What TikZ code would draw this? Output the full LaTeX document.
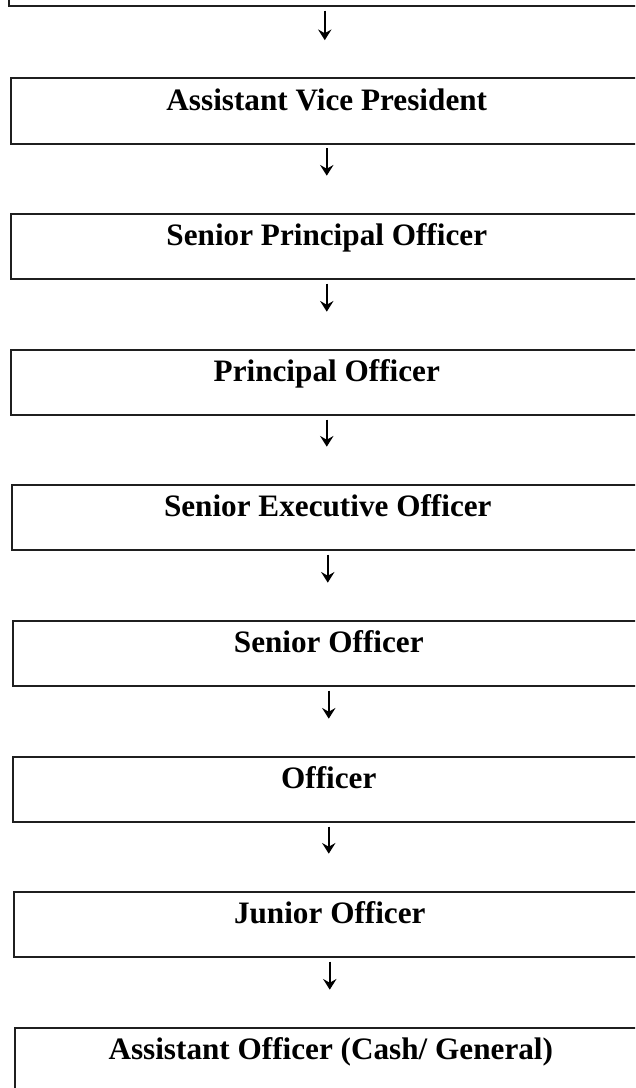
\documentclass[tikz,border=0pt]{standalone}
\usepackage{fontspec}
\setmainfont{Liberation Serif}
\usetikzlibrary{arrows.meta}

\tikzset{
  post/.style={draw=black!88, line width=1.15pt, rectangle, anchor=north west,
    minimum width=474pt, minimum height=49.1pt, inner ysep=0pt,
    text height=24pt, text depth=25.1pt,
    font=\bfseries\fontsize{23.4}{27}\selectfont},
  down/.style={-{Stealth[length=8pt,width=10pt,inset=2.8pt]}, line width=1.35pt,
    shorten <=2.8pt, shorten >=28pt}
}

\begin{document}
\begin{tikzpicture}[x=0.75pt,y=-0.75pt]
\useasboundingbox (0,0) rectangle (635,1088);
\clip (0,0) rectangle (635,1088);
% boxes (right side runs off the page)
\node[post, anchor=south west] (top) at (8,7) {};
\node[post] (avp) at (10,77.5) {Assistant Vice President};
\node[post] (spo) at (10,213) {Senior Principal Officer};
\node[post] (po)  at (10,349) {Principal Officer};
\node[post] (seo) at (11,484) {Senior Executive Officer};
\node[post] (so)  at (12,620) {Senior Officer};
\node[post] (off) at (12,756) {Officer};
\node[post] (jo)  at (13,891) {Junior Officer};
\node[post] (ao)  at (14,1027) {Assistant Officer (Cash/ General)};
% arrows
\draw[down] (top.south) -- (top.south |- avp.north);
\draw[down] (avp.south) -- (avp.south |- spo.north);
\draw[down] (spo.south) -- (spo.south |- po.north);
\draw[down] (po.south)  -- (po.south |- seo.north);
\draw[down] (seo.south) -- (seo.south |- so.north);
\draw[down] (so.south)  -- (so.south |- off.north);
\draw[down] (off.south) -- (off.south |- jo.north);
\draw[down] (jo.south)  -- (jo.south |- ao.north);
\end{tikzpicture}
\end{document}
